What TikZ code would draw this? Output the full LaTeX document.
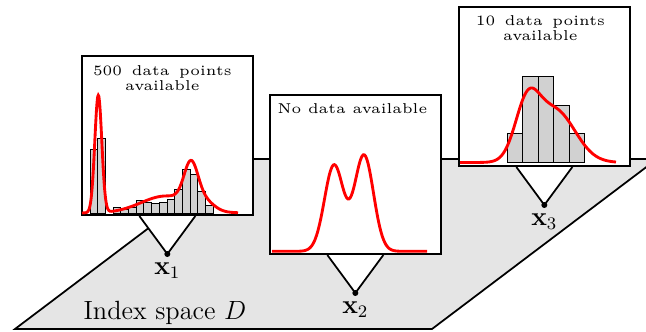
\documentclass[tikz,border=0pt]{standalone}
\usetikzlibrary{positioning,calc}
\definecolor{planegray}{gray}{0.9}
\definecolor{bargray}{gray}{0.82}
\tikzset{
  probe/.style={draw,thick,fill=white,minimum width=2.736cm,minimum height=2.544cm,
                anchor=south west,inner sep=0pt},
  density/.style={red,line width=1.3pt,smooth,samples=140},
  histbar/.style={draw,fill=bargray,line width=0.4pt},
  boxtext/.style={font=\fontsize{5}{5}\selectfont,scale=1.3,align=center,inner sep=0pt},
  declare function={gau(\x,\m,\s)=exp(-min(((\x-\m)/\s)^2/2,30));}
}
\newcommand{\probepoint}[3]{%
  \draw[thick,fill=white] ($(#1.south)+(-28,0)$) -- ($(#1.south)+(0,-38)$) coordinate (#2)
        -- ($(#1.south)+(28,0)$);
  \fill (#2) circle (3);
  \node[below=0.5pt of #2,font=\large] (#2lab) {$\mathbf{x}_{#3}$};
}

\begin{document}
\begin{tikzpicture}[x=0.016cm,y=0.016cm]
  \clip (0,0) rectangle (646,331);
  % index space
  \filldraw[fill=planegray,thick] (15,2) -- (432,2) -- (657,172) -- (240,172) -- cycle;
  \node[font=\large] (dspace) at (165,18) {Index space $D$};
  % boxes
  \node[probe] (b1) at (81,115) {};
  \node[probe] (b2) at (269,76) {};
  \node[probe] (b3) at (458,164) {};
  \probepoint{b1}{p1}{1}
  \probepoint{b2}{p2}{2}
  \probepoint{b3}{p3}{3}
  \node[probe] at (b1.south west) {};
  \node[probe] at (b2.south west) {};
  \node[probe] at (b3.south west) {};
  \node[boxtext,anchor=north] (t1) at ($(b1.north)+(-5,-10)$)
       {500\hspace{1pt} data\hspace{1pt} points\\available};
  \node[boxtext,anchor=north west] (t2) at ($(b2.north west)+(8,-9)$) {No data available};
  \node[boxtext,anchor=north] (t3) at ($(b3.north)+(-4,-9)$)
       {10\hspace{1pt} data\hspace{1pt} points\\available};
  % 500 points
  \begin{scope}[shift={(b1.south west)}]
    \foreach \i/\h in {0/64,1/75,3/6,4/4,5/6,6/12.7,7/11,8/9.3,9/10.7,10/13.3,
                       11/24,12/43.3,13/38.3,14/21.7,15/8}
      \draw[histbar] ({9+\i*7.7},3) rectangle ++(7.7,\h);
    \draw[density,domain=1:157]
      plot (\x,{3+117.6*gau(\x,17.3,3.5)+17*gau(\x,85,25)+40*gau(\x,110,7)+8*gau(\x,124,9)});
  \end{scope}
  % no data
  \begin{scope}[shift={(b2.south west)}]
    \draw[density,domain=3:158]
      plot (\x,{3.7+86*gau(\x,65,9.5)+96*gau(\x,95,9.5)});
  \end{scope}
  % 10 points
  \begin{scope}[shift={(b3.south west)}]
    \foreach \i/\h in {0/29,1/86,2/86,3/57,4/29}
      \draw[histbar] ({49.3+\i*15.5},4.7) rectangle ++(15.5,\h);
    \draw[density,domain=2:158]
      plot (\x,{4.5+52*gau(\x,69,12)+52*gau(\x,97,20)});
  \end{scope}
\end{tikzpicture}
\end{document}
